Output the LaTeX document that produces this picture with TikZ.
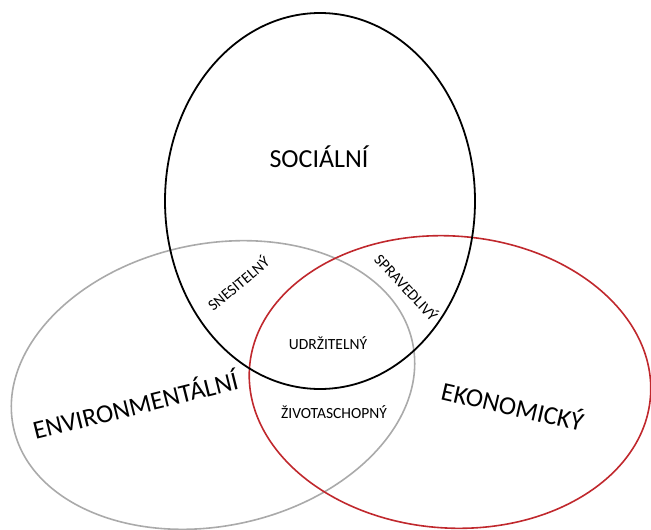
\documentclass[tikz,border=0pt]{standalone}
\usepackage{fontspec}
\setmainfont{Carlito}
\definecolor{vred}{RGB}{192,40,45}
\definecolor{vgray}{RGB}{170,170,170}
\begin{document}
\begin{tikzpicture}[x=1pt,y=-1pt,
  ring/.style={line width=1.8pt},
  big/.style={inner sep=0pt,font=\fontsize{26}{30}\selectfont},
  small/.style={inner sep=0pt,font=\fontsize{15.5}{18}\selectfont}]
\useasboundingbox (0,0) rectangle (651,530);
\begin{scope}
\clip (0,0) rectangle (651,530);
\draw[ring,vgray,line width=1.6pt,rotate around={12:(213,385)}] (213,385) ellipse [x radius=204pt,y radius=141pt];
\draw[ring,vred,line width=1.6pt,rotate around={-4:(450,382)}] (450,382) ellipse [x radius=201pt,y radius=146pt];
\draw[ring,black] (320,201) ellipse [x radius=155pt,y radius=188pt];
\end{scope}
\node[big] (soc) at (319,157) {SOCIÁLNÍ};
\node[big,rotate=14] (env) at (135,404) {ENVIRONMENTÁLNÍ};
\node[big,rotate=-13] (eko) at (513,405) {EKONOMICKÝ};
\node[small] (udr) at (328,343) {UDRŽITELNÝ};
\node[small] (ziv) at (334,412) {ŽIVOTASCHOPNÝ};
\node[small,rotate=40] (sne) at (238,283) {SNESITELNÝ};
\node[small,rotate=-47] (spr) at (407,287) {SPRAVEDLIVÝ};
\end{tikzpicture}
\end{document}
